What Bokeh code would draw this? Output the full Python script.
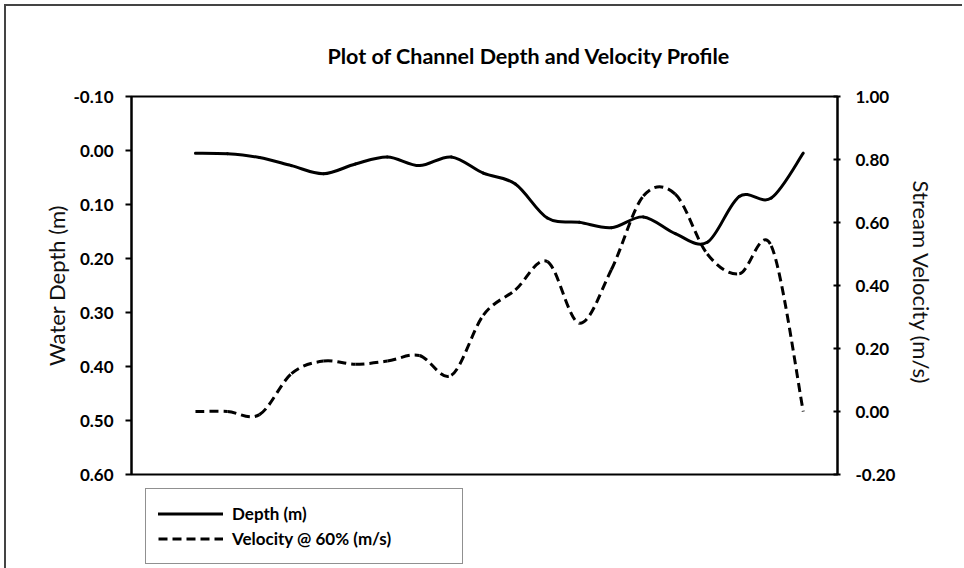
import numpy as np
from bokeh.plotting import figure
from bokeh.models import (Range1d, LinearAxis, FixedTicker, NumeralTickFormatter, Legend,
                          LegendItem, ColumnDataSource, Title)
from bokeh.embed import file_html
from bokeh.resources import INLINE

# ---- data ----
stations = list(range(1, 21))
depth_m = [0.005, 0.006, 0.013, 0.028, 0.043, 0.025, 0.012, 0.028, 0.012, 0.042,
           0.062, 0.125, 0.133, 0.143, 0.123, 0.154, 0.170, 0.085, 0.088, 0.005]
velocity_ms = [0.00, 0.00, -0.01, 0.12, 0.16, 0.15, 0.16, 0.178, 0.115, 0.306,
               0.386, 0.476, 0.28, 0.45, 0.684, 0.69, 0.50, 0.437, 0.526, 0.00]
depth_ticks = [-0.1, 0.0, 0.1, 0.2, 0.3, 0.4, 0.5, 0.6]
velocity_ticks = [-0.2, 0.0, 0.2, 0.4, 0.6, 0.8, 1.0]

title_text = "Plot of Channel Depth and Velocity Profile"
left_label = "Water Depth (m)"
right_label = "Stream Velocity  (m/s)"
legend_depth = "Depth (m)"
legend_vel = "Velocity @ 60% (m/s)"

FONT = "Lato"


def smooth_source(x, y):
    """Bezier segments (Catmull-Rom style, like a spreadsheet 'smoothed line')."""
    x = np.asarray(x, float)
    y = np.asarray(y, float)
    xp = np.concatenate([[x[0]], x, [x[-1]]])
    yp = np.concatenate([[y[0]], y, [y[-1]]])
    n = len(x)
    d = dict(x0=[], y0=[], x1=[], y1=[], cx0=[], cy0=[], cx1=[], cy1=[])
    for i in range(n - 1):
        p0x, p0y = xp[i], yp[i]
        p1x, p1y = xp[i + 1], yp[i + 1]
        p2x, p2y = xp[i + 2], yp[i + 2]
        p3x, p3y = xp[i + 3], yp[i + 3]
        d["x0"].append(p1x); d["y0"].append(p1y)
        d["x1"].append(p2x); d["y1"].append(p2y)
        d["cx0"].append(p1x + (p2x - p0x) / 6.0); d["cy0"].append(p1y + (p2y - p0y) / 6.0)
        d["cx1"].append(p2x - (p3x - p1x) / 6.0); d["cy1"].append(p2y - (p3y - p1y) / 6.0)
    return ColumnDataSource(d)


p = figure(frame_width=706, frame_height=378, output_backend="svg", toolbar_location=None,
           x_range=Range1d(-1.0, 21.07), y_range=Range1d(0.6, -0.1),
           x_axis_location=None, y_axis_location="left",
           min_border_left=125, min_border_right=125, min_border_top=90, min_border_bottom=92,
           background_fill_color="white", border_fill_color="white",
           styles={"margin-left": "4px", "margin-top": "4px",
                   "border-left": "2px solid #444444", "border-top": "2px solid #444444"})
p.grid.visible = False
p.outline_line_color = "black"
p.outline_line_width = 2

p.extra_y_ranges = {"vel": Range1d(-0.2, 1.0)}

# title
p.title = Title(text=title_text, align="left", offset=196, standoff=55,
                text_font=FONT, text_font_style="bold", text_font_size="21.5px",
                text_color="black")

# left axis
ya = p.yaxis[0]
ya.ticker = FixedTicker(ticks=depth_ticks)
ya.formatter = NumeralTickFormatter(format="0.00")
ya.axis_line_color = "black"
ya.axis_line_width = 2
ya.major_tick_in = 0
ya.major_tick_out = 6
ya.major_tick_line_width = 2
ya.minor_tick_line_color = None
ya.major_label_standoff = 12
ya.major_label_text_font = FONT
ya.major_label_text_font_style = "bold"
ya.major_label_text_font_size = "17px"
ya.major_label_text_color = "black"
ya.axis_label = left_label
ya.axis_label_text_font = FONT
ya.axis_label_text_font_style = "normal"
ya.axis_label_text_font_size = "22px"
ya.axis_label_text_color = "#111111"
ya.axis_label_standoff = 1

# right axis
ra = LinearAxis(y_range_name="vel", ticker=FixedTicker(ticks=velocity_ticks),
                formatter=NumeralTickFormatter(format="0.00"))
ra.axis_line_color = "black"
ra.axis_line_width = 2
ra.major_tick_in = 4
ra.major_tick_out = 3
ra.major_tick_line_width = 2
ra.minor_tick_line_color = None
ra.major_label_standoff = 15
ra.major_label_text_font = FONT
ra.major_label_text_font_style = "bold"
ra.major_label_text_font_size = "17px"
ra.major_label_text_color = "black"
ra.axis_label = right_label
ra.axis_label_text_font = FONT
ra.axis_label_text_font_style = "normal"
ra.axis_label_text_font_size = "22px"
ra.axis_label_text_color = "#111111"
ra.axis_label_standoff = 10
p.add_layout(ra, "right")

# series
src_d = smooth_source(stations, depth_m)
src_v = smooth_source(stations, velocity_ms)
r_d = p.bezier(x0="x0", y0="y0", x1="x1", y1="y1", cx0="cx0", cy0="cy0", cx1="cx1", cy1="cy1",
               source=src_d, line_color="black", line_width=3, line_cap="round")
r_v = p.bezier(x0="x0", y0="y0", x1="x1", y1="y1", cx0="cx0", cy0="cy0", cx1="cx1", cy1="cy1",
               source=src_v, line_color="black", line_width=3, line_dash="9 5",
               y_range_name="vel")

# legend below the plot area, boxed
legend = Legend(items=[LegendItem(label=legend_depth, renderers=[r_d]),
                       LegendItem(label=legend_vel, renderers=[r_v])],
                location="top_left", orientation="vertical",
                padding=12, spacing=0, margin=14,
                glyph_width=65, glyph_height=25, label_height=25, label_standoff=9,
                label_width=218,
                label_text_font=FONT, label_text_font_style="bold", label_text_font_size="17px",
                label_text_color="black",
                border_line_color="#222222", border_line_width=1,
                background_fill_color="white", background_fill_alpha=1)
p.add_layout(legend, "below")

open("out.html", "w").write(file_html(p, INLINE))
